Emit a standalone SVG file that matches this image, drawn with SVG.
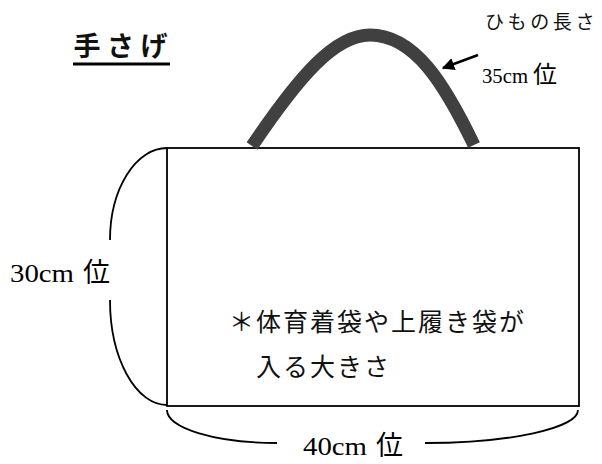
<svg xmlns="http://www.w3.org/2000/svg" width="602" height="464" viewBox="0 0 602 464">
<defs>
<style>
.ln{fill:none;stroke:#000;stroke-width:1.8}
.lab{font-family:"Liberation Serif","Noto Sans CJK JP",serif;fill:#000}
.jp{font-family:"Noto Sans CJK JP","Liberation Sans",sans-serif;fill:#111}
</style>
<marker id="ah" viewBox="0 0 10 10" refX="9" refY="5" markerWidth="5" markerHeight="5" orient="auto" markerUnits="strokeWidth">
<path d="M0,0 L10,5 L0,10 z" fill="#000"/>
</marker>
</defs>
<rect width="602" height="464" fill="#fff"/>
<g id="title">
<text x="73.5" y="55.5" class="jp" font-size="27" font-weight="bold" letter-spacing="6.5" fill="#000">手さげ</text>
<line x1="73" y1="64" x2="170" y2="64" stroke="#000" stroke-width="3"/>
</g>
<g id="bag">
<rect x="167" y="148" width="412" height="258" class="ln"/>
<path d="M252,146 C300,75 335,35 370,35 C415,35 445,85 474,145" fill="none" stroke="#404040" stroke-width="13"/>
</g>
<g id="inner-text">
<text x="229" y="330.5" class="jp" font-size="25" letter-spacing="2">＊体育着袋や上履き袋が</text>
<text x="256" y="375.5" class="jp" font-size="25" letter-spacing="2">入る大きさ</text>
</g>
<g id="connectors">
<path d="M167,148 A57,92 0 0 0 110,240" class="ln"/>
<path d="M110,300 A57,105 0 0 0 167,405" class="ln"/>
<path d="M167,410 A110,33 0 0 0 277,443" class="ln"/>
<path d="M425,443 A153,33 0 0 0 578,410" class="ln"/>
<line x1="478" y1="55" x2="443" y2="68" stroke="#000" stroke-width="2.5" marker-end="url(#ah)"/>
</g>
<g id="labels">
<text x="485" y="29" class="jp" font-size="19" letter-spacing="3.6" fill="#222">ひもの長さ</text>
<text x="482" y="83" class="lab" font-size="21"><tspan textLength="46" lengthAdjust="spacingAndGlyphs">35cm</tspan> <tspan x="533" font-size="24">位</tspan></text>
<text x="10" y="282" class="lab" font-size="25"><tspan textLength="64" lengthAdjust="spacingAndGlyphs">30cm</tspan> <tspan x="83" font-size="27">位</tspan></text>
<text x="303" y="455" class="lab" font-size="25"><tspan textLength="64" lengthAdjust="spacingAndGlyphs">40cm</tspan> <tspan x="376" font-size="27">位</tspan></text>
</g>
</svg>
